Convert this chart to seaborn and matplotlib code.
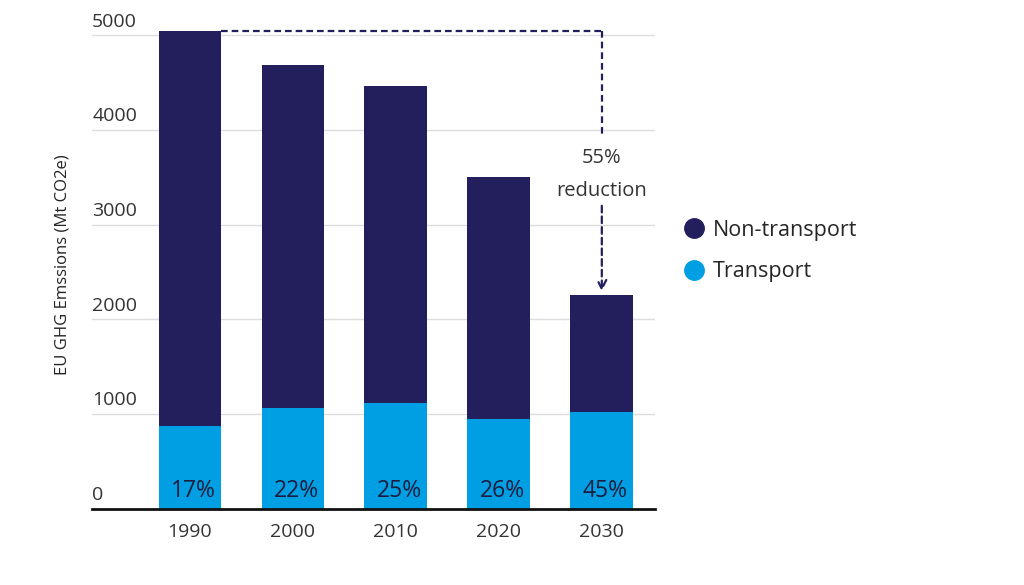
import pandas as pd
import seaborn as sns
import matplotlib.pyplot as plt
from matplotlib.lines import Line2D

# Data (Mt CO2e)
years = ["1990", "2000", "2010", "2020", "2030"]
transport = [875, 1065, 1118, 949, 1023]
non_transport = [4167, 3619, 3344, 2553, 1234]
share_labels = ["17%", "22%", "25%", "26%", "45%"]
y_ticks = [0, 1000, 2000, 3000, 4000, 5000]

navy = "#231f5c"
blue = "#009fe3"
grey_text = "#333333"

df = pd.DataFrame({"year": years, "transport": transport, "non_transport": non_transport})
df["total"] = df["transport"] + df["non_transport"]

sns.set_theme(style="white")
plt.rcParams["font.family"] = ["Open Sans", "DejaVu Sans"]

fig = plt.figure(figsize=(10.24, 5.85), dpi=100)
ax = fig.add_axes([0.09, 0.13, 0.55, 0.834])

# stacked bars: total in navy, transport on top of it from zero
sns.barplot(data=df, x="year", y="total", color=navy, width=0.61, saturation=1,
            linewidth=0, ax=ax, zorder=3)
sns.barplot(data=df, x="year", y="transport", color=blue, width=0.61, saturation=1,
            linewidth=0, ax=ax, zorder=4)

ax.set_xlim(-0.95, 4.52)
ax.set_ylim(0, 5150)
ax.set_yticks(y_ticks)
ax.set_yticklabels([])
ax.tick_params(axis="y", length=0)
ax.tick_params(axis="x", length=0, pad=10, labelsize=14, labelcolor=grey_text)
ax.grid(axis="y", color="#dddddd", linewidth=1, zorder=0)
ax.set_axisbelow(True)
for s in ["left", "right", "top"]:
    ax.spines[s].set_visible(False)
ax.spines["bottom"].set_color("#111111")
ax.spines["bottom"].set_linewidth(2)
ax.spines["bottom"].set_zorder(5)
ax.set_xlabel("")
ax.set_ylabel("EU GHG Emssions (Mt CO2e)", fontsize=12, color="#222222", labelpad=12)

# y labels sit above the grid lines, left aligned
for v in y_ticks:
    ax.text(-0.95, v + 50, f"{v}", ha="left", va="bottom", fontsize=14, color=grey_text)

# share of transport inside bars
for i, lab in enumerate(share_labels):
    ax.text(i + 0.03, 60, lab, ha="center", va="bottom", fontsize=16.5, color="#1c1c3c", zorder=6)

# dashed bracket showing the reduction
top = df["total"].iloc[0]
last = len(years) - 1
dash = (0, (3, 1.8))
ax.plot([0 + 0.305, last], [top, top], color=navy, lw=1.6, ls=dash, zorder=6)
ax.plot([last, last], [top, 3940], color=navy, lw=1.6, ls=dash, zorder=6)
ax.text(last, 3700, "55%", ha="center", va="center", fontsize=14.5, color=grey_text)
ax.text(last, 3360, "reduction", ha="center", va="center", fontsize=14.5, color=grey_text)
ax.annotate("", xy=(last, df["total"].iloc[-1] + 40), xytext=(last, 3200),
            arrowprops=dict(arrowstyle="->", color=navy, lw=1.6, ls=(0, (3, 1.8)),
                            shrinkA=0, shrinkB=0, mutation_scale=16), zorder=6)

handles = [
    Line2D([0], [0], marker="o", ls="", markersize=14, markerfacecolor=navy, markeredgecolor=navy),
    Line2D([0], [0], marker="o", ls="", markersize=14, markerfacecolor=blue, markeredgecolor=blue),
]
fig.legend(handles, ["Non-transport", "Transport"], loc="center left",
           bbox_to_anchor=(0.646, 0.571), frameon=False, fontsize=15.5,
           handletextpad=0.3, labelspacing=0.95, handlelength=1.2)

fig.savefig("out.png", dpi=100)
